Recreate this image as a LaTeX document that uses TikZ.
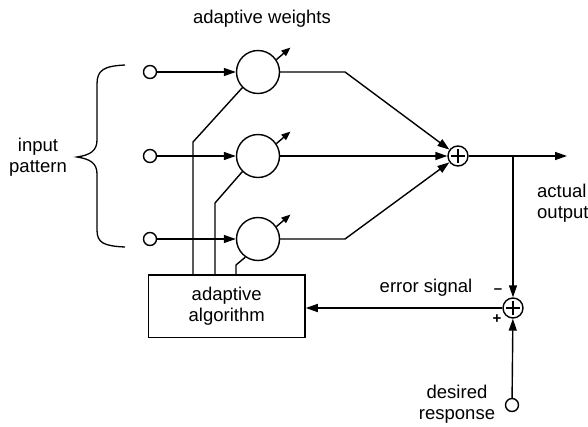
\documentclass[tikz,border=0pt]{standalone}
\usepackage{fontspec}
\setmainfont{Liberation Sans}
\usetikzlibrary{arrows.meta,calc}
\begin{document}
\begin{tikzpicture}[x=1pt,y=-1pt,
  line width=1.4pt,
  every node/.style={font=\fontsize{18.5}{20.5}\selectfont},
  tip/.style={-{Triangle[length=12pt,width=8pt]}},
  smalltip/.style={-{Triangle[length=9pt,width=7pt]}},
  port/.style={circle,draw,inner sep=0pt,minimum size=13pt},
  weight/.style={circle,draw,inner sep=0pt,minimum size=43pt},
  adder/.style={circle,draw,inner sep=0pt,minimum size=20pt,
    path picture={\draw[line width=1.1pt]
      ([xshift=-7pt]path picture bounding box.center) -- ([xshift=7pt]path picture bounding box.center)
      ([yshift=-7pt]path picture bounding box.center) -- ([yshift=7pt]path picture bounding box.center);}},
  block/.style={draw,minimum width=156.7pt,minimum height=62.3pt,align=center,inner sep=0pt},
  txt/.style={align=center,inner sep=0pt},
  sign/.style={inner sep=0pt,font=\fontsize{15}{15}\selectfont\bfseries}
]
\useasboundingbox (0,0) rectangle (588,426);

% input terminals
\node[port] (in1) at (150,72) {};
\node[port] (in2) at (150,156) {};
\node[port] (in3) at (150,239) {};

% adjustable weights
\node[weight] (w1) at (258,72) {};
\node[weight] (w2) at (258,156) {};
\node[weight] (w3) at (258,239) {};

% summing junctions
\node[adder] (sum) at (458,156) {};
\node[adder] (err) at (513,308) {};

% desired response terminal
\node[port] (des) at (512,405) {};

% adaptation block
\node[block] (alg) at (226.7,306.2) {adaptive\\algorithm};

% bend points
\coordinate (b1) at (345,72);
\coordinate (b3) at (345,239);
\coordinate (tap) at (513,156);
\coordinate (out) at (567,156);
\coordinate (f1) at (193,142);
\coordinate (f2) at (215,203);
\coordinate (f3) at (236,265);

% signal paths
\draw[tip] (in1) -- (w1);
\draw[tip] (in2) -- (w2);
\draw[tip] (in3) -- (w3);
\draw[tip] (w1) -- (b1) -- (sum);
\draw[tip] (w2) -- (sum);
\draw[tip] (w3) -- (b3) -- (sum);
\draw[tip] (sum) -- (out);
\draw[tip] (tap) -- (err);
\draw[tip] (des) -- (err);
\draw[tip] (err) -- (err -| alg.east);

% weight adjustment lines
\draw (w1.225) -- (f1) -- (f1 |- alg.north);
\draw (w2.225) -- (f2) -- (f2 |- alg.north);
\draw (w3.235) -- (f3) -- (f3 |- alg.north);

% adjustable markers
\draw[smalltip] (w1.34) -- ++(14,-12);
\draw[smalltip] (w2.34) -- ++(14,-12);
\draw[smalltip] (w3.34) -- ++(14,-12);

% brace grouping the inputs
\draw[line width=1.3pt] (125,65) .. controls (104,66) and (97,70) .. (97,84)
  -- (97,140) .. controls (97,151) and (90,155) .. (77,157)
  .. controls (90,159) and (97,163) .. (97,174)
  -- (97,230) .. controls (97,243) and (104,246) .. (125,247);

% labels
\node[txt] (ttl) at (262,19) {adaptive weights};
\node[txt] (ip) at (38,157) {input\\pattern};
\node[txt,align=left,anchor=west] (ao) at (536.5,203) {actual\\output};
\node[txt] (es) at (426,288) {error signal};
\node[txt] (dr) at (457,404) {desired\\response};
\node[sign] (mn) at (498,291) {\textendash};
\node[sign] (pl) at (497,319) {+};
\end{tikzpicture}
\end{document}
